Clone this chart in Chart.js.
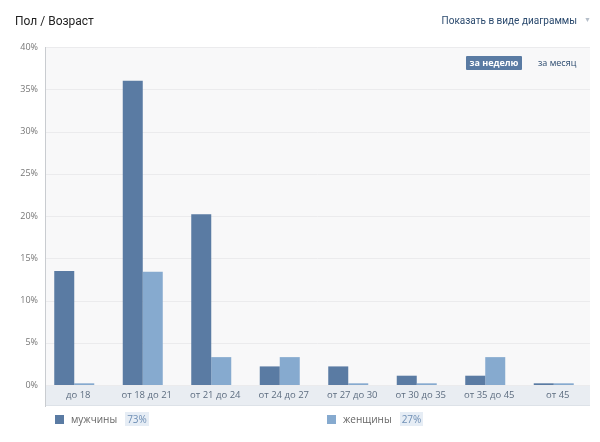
<!DOCTYPE html>
<html>
<head>
<meta charset="utf-8">
<script src="https://cdn.jsdelivr.net/npm/chart.js@4"></script>
<style>
    html, body { margin: 0; padding: 0; background: #fff; }
    body { width: 600px; height: 442px; position: relative; overflow: hidden; font-family: Roboto, "Open Sans", sans-serif; }
    #chart-wrap { position: absolute; left: 0; top: 0; width: 600px; height: 442px; }
    .title { position: absolute; left: 15px; top: 14px; font-size: 12px; color: #222; }
    .view-switch { position: absolute; right: 23px; top: 15px; font-size: 10px; color: #2b4a6e; }
    .view-switch-arrow { position: absolute; left: 584px; top: 16px; font-size: 7px; color: #b5bec9; }
    .period { position: absolute; top: 56px; font-size: 9px; height: 14px; line-height: 14px; font-family: "Open Sans", sans-serif; }
    .period.active { left: 466px; width: 56px; text-align: center; background: #5a7ba3; color: #fff; font-weight: bold; border-radius: 1px; }
    .period.idle { left: 538px; color: #2b4a6e; }
    .legend-item { position: absolute; top: 412px; font-size: 10px; color: #666; height: 14px; line-height: 14px; font-family: "Open Sans", sans-serif; }
    .legend-item .box { display: inline-block; width: 9px; height: 9px; vertical-align: -1px; margin-right: 7px; }
    .legend-item .share { display: inline-block; margin-left: 8px; padding: 0 2px; background: #e6edf5; color: #6f8fb5; }
</style>
</head>
<body>
<div id="chart-wrap"><canvas id="age-chart" width="600" height="442"></canvas></div>
<div class="title">Пол / Возраст</div>
<div class="view-switch">Показать в виде диаграммы</div>
<div class="view-switch-arrow">▼</div>
<div class="period active">за неделю</div>
<div class="period idle">за месяц</div>
<div id="legend"></div>

<script>
// --- DADOS ---
const ageGroups = ['до 18', 'от 18 до 21', 'от 21 до 24', 'от 24 до 27', 'от 27 до 30', 'от 30 до 35', 'от 35 до 45', 'от 45'];
const menValues = [13.5, 36.0, 20.2, 2.2, 2.2, 1.1, 1.1, 0.2];
const womenValues = [0.2, 13.4, 3.3, 3.3, 0.2, 0.2, 3.3, 0.2];
const seriesNames = ['мужчины', 'женщины'];
const seriesShares = ['73%', '27%'];
const yTicks = [0, 5, 10, 15, 20, 25, 30, 35, 40];

const menColor = '#5a7ba3';
const womenColor = '#86aacf';

// legenda em HTML
const legendEl = document.getElementById('legend');
[[55, menColor], [327, womenColor]].forEach(([left, color], i) => {
    const item = document.createElement('div');
    item.className = 'legend-item';
    item.style.left = left + 'px';
    item.innerHTML = `<span class="box" style="background:${color}"></span>${seriesNames[i]}<span class="share">${seriesShares[i]}</span>`;
    legendEl.appendChild(item);
});

// fundo da área do gráfico, faixa das categorias e grade
const backgroundPlugin = {
    id: 'plotBackground',
    beforeDraw(chart) {
        const { ctx, chartArea, scales } = chart;
        const left = 45, right = 590;
        ctx.save();
        ctx.fillStyle = '#f8f8f9';
        ctx.fillRect(left, chartArea.top, right - left, chartArea.bottom - chartArea.top);
        ctx.fillStyle = '#e9edf2';
        ctx.fillRect(left, chartArea.bottom, right - left, 20);
        ctx.fillStyle = '#dde2e8';
        ctx.fillRect(left, chartArea.bottom + 20, right - left, 1);
        ctx.strokeStyle = '#ebebed';
        ctx.lineWidth = 1;
        yTicks.forEach(v => {
            const y = Math.round(scales.y.getPixelForValue(v)) + 0.5;
            ctx.beginPath();
            ctx.moveTo(left, y);
            ctx.lineTo(right, y);
            ctx.stroke();
        });
        ctx.strokeStyle = '#c9ccd0';
        ctx.beginPath();
        ctx.moveTo(left + 0.5, chartArea.top);
        ctx.lineTo(left + 0.5, chartArea.bottom + 22);
        ctx.stroke();
        ctx.restore();
    }
};

new Chart(document.getElementById('age-chart'), {
    type: 'bar',
    data: {
        labels: ageGroups,
        datasets: [
            { label: seriesNames[0], data: menValues, backgroundColor: menColor },
            { label: seriesNames[1], data: womenValues, backgroundColor: womenColor }
        ]
    },
    options: {
        responsive: false,
        animation: false,
        layout: { padding: { top: 47, right: 12, bottom: 0, left: 0 } },
        datasets: { bar: { categoryPercentage: 0.584, barPercentage: 1 } },
        plugins: { legend: { display: false }, tooltip: { enabled: false } },
        scales: {
            x: {
                grid: { display: false, drawTicks: false },
                border: { display: false },
                ticks: {
                    color: '#5d6d80',
                    font: { family: 'Open Sans', size: 9.5 },
                    padding: 5,
                    labelOffset: 4,
                    maxRotation: 0,
                    autoSkip: false
                },
                afterFit(scale) { scale.height = 57; }
            },
            y: {
                min: 0,
                max: 40,
                grid: { display: false, drawTicks: false },
                border: { display: false },
                ticks: {
                    stepSize: 5,
                    color: '#777',
                    font: { family: 'Open Sans', size: 9 },
                    padding: 2,
                    callback: v => v + '%'
                },
                afterFit(scale) { scale.width = 40; }
            }
        }
    },
    plugins: [backgroundPlugin]
});
</script>
</body>
</html>
